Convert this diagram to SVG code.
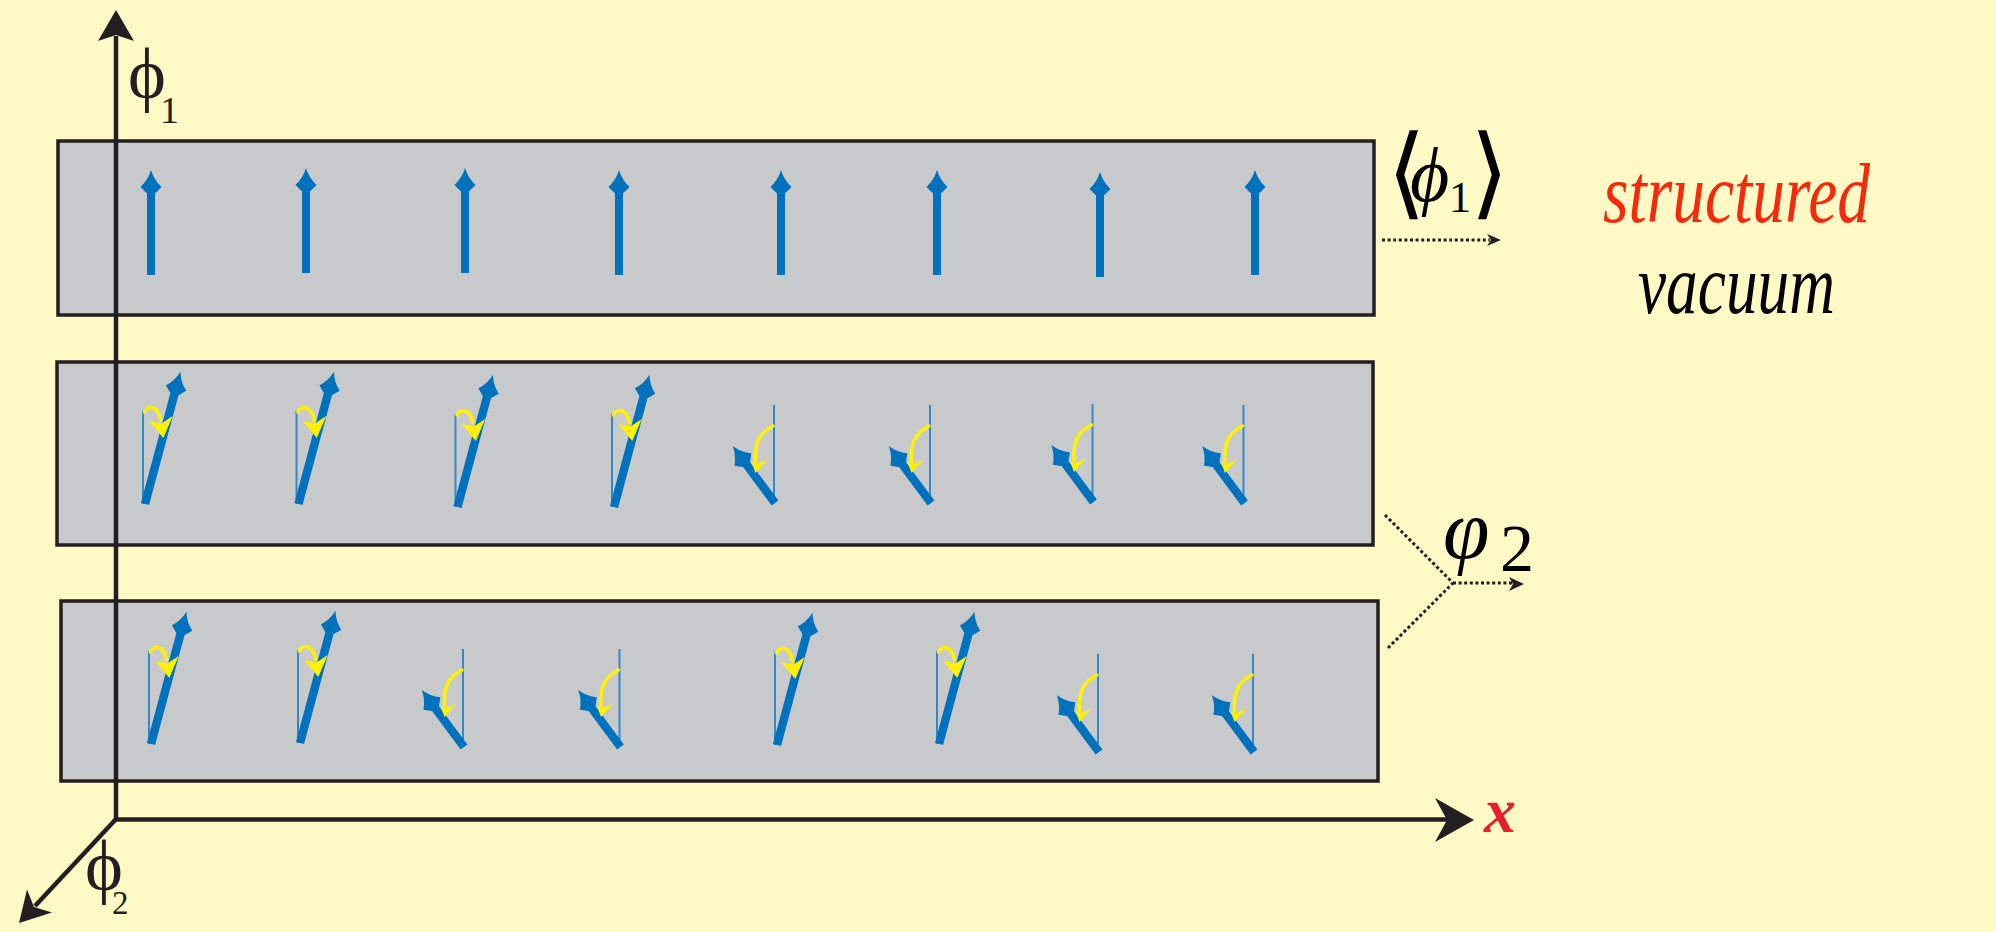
<svg xmlns="http://www.w3.org/2000/svg" width="1996" height="932" viewBox="0 0 1996 932">
  <defs>
    <style>
      .bg{fill:#fff9c6}
      .panel{fill:#c8c9cb;stroke:#231f20;stroke-width:3.5}
      .axis{stroke:#231f20;stroke-width:4.5;fill:none}
      .tip{fill:#231f20}
      .spin{fill:#0071bc}
      .ref{stroke:#3388c8;stroke-width:2;fill:none}
      .turn{stroke:#fff200;stroke-width:3.5;fill:none;stroke-linecap:round}
      .turnhead{fill:#fff200}
      .dots{stroke:#231f20;stroke-width:3;fill:none;stroke-dasharray:3 2.6}
      .serif{font-family:"Liberation Serif","DejaVu Serif",serif}
      .bracket{font-family:"DejaVu Sans",sans-serif;font-weight:200}
    </style>
    <!-- upright spin, tail at origin -->
    <path id="spin-up" class="spin" d="M0,-105 Q3,-95 10.5,-88 L4.5,-82 L4,-82 L4,0 L-4,0 L-4,-82 L-4.5,-82 L-10.5,-88 Q-3,-95 0,-105 Z"/>
    <!-- spin tilted right with rotation hint -->
    <g id="tilt-right">
      <line class="ref" x1="-2" y1="0" x2="-2" y2="-93"/>
      <path class="spin" transform="rotate(15)" d="M0,-137 Q3,-127 10.5,-120 L4.5,-114 L4.2,-114 L4.2,0 L-4.2,0 L-4.2,-114 L-4.5,-114 L-10.5,-120 Q-3,-127 0,-137 Z"/>
      <path class="turn" d="M-0.5,-92 C2,-99 13,-99 15.5,-84"/>
      <path class="turnhead" d="M4.3,-83 L16.5,-80.5 L27.7,-88 L18.3,-66 Z"/>
    </g>
    <!-- spin tilted left with rotation hint -->
    <g id="tilt-left">
      <line class="ref" x1="-1" y1="-1" x2="-1" y2="-98"/>
      <path class="spin" transform="rotate(-36.5)" d="M0,-71 Q3,-61 10.5,-54 L4.5,-48 L4.2,-48 L4.2,0 L-4.2,0 L-4.2,-48 L-4.5,-48 L-10.5,-54 Q-3,-61 0,-71 Z"/>
      <path class="turn" d="M-2,-77 C-14,-71 -21,-62 -19.5,-41"/>
      <path class="turnhead" d="M-23.5,-41 L-18.5,-38.5 L-7.5,-43.5 L-19.5,-30 Z"/>
    </g>
  </defs>

  <rect class="bg" x="0" y="0" width="1996" height="932"/>

  <!-- uniform vacuum -->
  <g id="row-uniform">
    <rect class="panel" x="58" y="141" width="1316" height="174"/>
    <use href="#spin-up" transform="translate(151,275)"/>
    <use href="#spin-up" transform="translate(306,273)"/>
    <use href="#spin-up" transform="translate(465,273)"/>
    <use href="#spin-up" transform="translate(619,275)"/>
    <use href="#spin-up" transform="translate(781,275)"/>
    <use href="#spin-up" transform="translate(937,275)"/>
    <use href="#spin-up" transform="translate(1100,277)"/>
    <use href="#spin-up" transform="translate(1255,275)"/>
  </g>

  <!-- single domain wall -->
  <g id="row-kink">
    <rect class="panel" x="57" y="362" width="1316" height="183"/>
    <use href="#tilt-right" transform="translate(145,504)"/>
    <use href="#tilt-right" transform="translate(298.5,504)"/>
    <use href="#tilt-right" transform="translate(457.5,507)"/>
    <use href="#tilt-right" transform="translate(614,507)"/>
    <use href="#tilt-left" transform="translate(775,503)"/>
    <use href="#tilt-left" transform="translate(931,503)"/>
    <use href="#tilt-left" transform="translate(1093.5,502)"/>
    <use href="#tilt-left" transform="translate(1244.5,503)"/>
  </g>

  <!-- alternating domains -->
  <g id="row-domains">
    <rect class="panel" x="61" y="601" width="1317" height="180"/>
    <use href="#tilt-right" transform="translate(151,744)"/>
    <use href="#tilt-right" transform="translate(300,743)"/>
    <use href="#tilt-left" transform="translate(464,747)"/>
    <use href="#tilt-left" transform="translate(620.5,747)"/>
    <use href="#tilt-right" transform="translate(777,745)"/>
    <use href="#tilt-right" transform="translate(939,744)"/>
    <use href="#tilt-left" transform="translate(1099,752)"/>
    <use href="#tilt-left" transform="translate(1254,752)"/>
  </g>

  <!-- field-space axes -->
  <g id="axes">
    <line class="axis" x1="116" y1="821" x2="116" y2="36"/>
    <path class="tip" d="M116,10 L134,41 L116,35 L98,41 Z"/>
    <line class="axis" x1="114" y1="819.5" x2="1450" y2="819.5"/>
    <path class="tip" d="M1474,820 L1435,798 L1447,820 L1435,842 Z"/>
    <line class="axis" x1="117" y1="818" x2="35" y2="906"/>
    <path class="tip" d="M19,923 L27,889.5 L34,907 L52,912.5 Z"/>
  </g>

  <g id="axis-labels" class="serif" fill="#231f20">
    <text x="128" y="98" font-size="72">ϕ</text>
    <text x="160" y="123" font-size="38">1</text>
    <text x="85" y="890" font-size="72">ϕ</text>
    <text x="112" y="914" font-size="33">2</text>
    <text x="1484" y="832" font-size="64" font-weight="bold" font-style="italic" fill="#e5202e">x</text>
  </g>

  <!-- dotted pointers to the field labels -->
  <g id="connectors">
    <line class="dots" x1="1382" y1="240" x2="1490" y2="240"/>
    <path class="tip" d="M1501,240 L1487,234 L1491,240 L1487,246 Z"/>
    <line class="dots" x1="1385" y1="515" x2="1453" y2="583"/>
    <line class="dots" x1="1388" y1="648" x2="1453" y2="583"/>
    <line class="dots" x1="1453" y1="583" x2="1512" y2="583"/>
    <path class="tip" d="M1524,584 L1509,577 L1513,584 L1509,591 Z"/>
  </g>

  <g id="label-vev" fill="#000000">
    <text class="bracket" x="1387" y="206" font-size="100">⟨</text>
    <text class="serif" x="1410" y="201" font-size="76" font-style="italic">ϕ</text>
    <text class="serif" x="1449" y="212" font-size="44">1</text>
    <text class="bracket" x="1470" y="206" font-size="100">⟩</text>
  </g>

  <g id="label-phase" class="serif" fill="#000000">
    <text x="1443" y="558" font-size="84" font-style="italic">φ</text>
    <text x="1500" y="571" font-size="68">2</text>
  </g>

  <g id="caption" class="serif" font-style="italic" font-size="84" text-anchor="middle">
    <text x="1736.5" y="222" fill="#f22b0c" textLength="267" lengthAdjust="spacingAndGlyphs">structured</text>
    <text x="1736.5" y="313" fill="#000000" textLength="197" lengthAdjust="spacingAndGlyphs">vacuum</text>
  </g>
</svg>
